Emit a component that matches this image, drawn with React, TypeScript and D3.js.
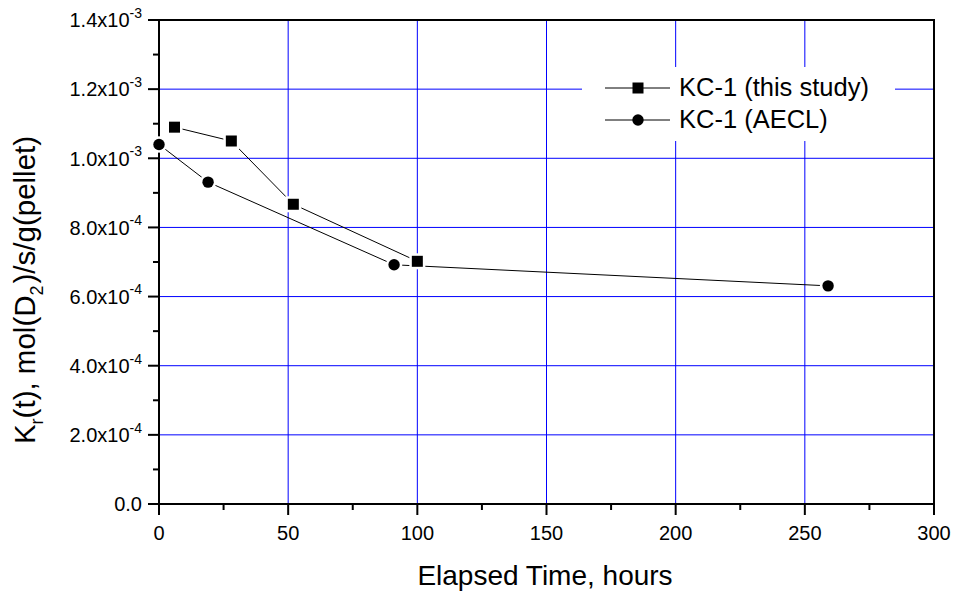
import React from "react";
import * as d3 from "d3";

// series
const studyTime = [6, 28, 52, 100];
const studyKr = [1.09e-3, 1.05e-3, 0.867e-3, 0.702e-3];
const aeclTime = [0, 19, 91, 259];
const aeclKr = [1.04e-3, 0.931e-3, 0.692e-3, 0.631e-3];

const xMajor = [0, 50, 100, 150, 200, 250, 300];
const xMinor = [25, 75, 125, 175, 225, 275];
const yMajor = [0, 0.2e-3, 0.4e-3, 0.6e-3, 0.8e-3, 1.0e-3, 1.2e-3, 1.4e-3];
const yMinor = [0.1e-3, 0.3e-3, 0.5e-3, 0.7e-3, 0.9e-3, 1.1e-3, 1.3e-3];
const yMantissa = ["0.0", "2.0", "4.0", "6.0", "8.0", "1.0", "1.2", "1.4"];
const yExponent = ["", "-4", "-4", "-4", "-4", "-3", "-3", "-3"];

const legendLabels = ["KC-1 (this study)", "KC-1 (AECL)"];

const font = "'Liberation Sans', Arial, sans-serif";

const App = () => {
  const width = 957;
  const height = 599;
  const left = 159;
  const right = 934;
  const top = 20;
  const bottom = 504;

  const x = d3.scaleLinear().domain([0, 300]).range([left, right]);
  const y = d3.scaleLinear().domain([0, 1.4e-3]).range([bottom, top]);

  const line = d3
    .line<[number, number]>()
    .x((d) => x(d[0]))
    .y((d) => y(d[1]));

  const study = studyTime.map((t, i) => [t, studyKr[i]] as [number, number]);
  const aecl = aeclTime.map((t, i) => [t, aeclKr[i]] as [number, number]);

  const sq = 11;
  const rc = 5.7;
  const halo = 2.5;

  const square = (cx: number, cy: number, key: string) => (
    <g key={key}>
      <rect x={cx - sq / 2 - halo} y={cy - sq / 2 - halo} width={sq + 2 * halo} height={sq + 2 * halo} fill="#fff" />
      <rect x={cx - sq / 2} y={cy - sq / 2} width={sq} height={sq} fill="#000" />
    </g>
  );
  const circle = (cx: number, cy: number, key: string) => (
    <g key={key}>
      <circle cx={cx} cy={cy} r={rc + halo} fill="#fff" />
      <circle cx={cx} cy={cy} r={rc} fill="#000" />
    </g>
  );

  const legX = 605;
  const legY = [88, 120];

  return (
    <svg
      width={width}
      height={height}
      style={{ position: "absolute", left: 0, top: 0, background: "#fff" }}
      fontFamily={font}
    >
      <rect width={width} height={height} fill="#fff" />

      {/* grid */}
      {xMajor.slice(1, -1).map((v) => (
        <line key={"gx" + v} x1={x(v)} x2={x(v)} y1={top} y2={bottom} stroke="#0000ff" strokeWidth={1} />
      ))}
      {yMajor.slice(1, -1).map((v) => (
        <line key={"gy" + v} x1={left} x2={right} y1={y(v)} y2={y(v)} stroke="#0000ff" strokeWidth={1} />
      ))}

      {/* legend background */}
      <rect x={582} y={67} width={313} height={74} fill="#fff" />

      {/* frame */}
      <rect x={left} y={top} width={right - left} height={bottom - top} fill="none" stroke="#000" strokeWidth={2} />

      {/* x ticks */}
      {xMajor.map((v) => (
        <g key={"xt" + v}>
          <line x1={x(v)} x2={x(v)} y1={bottom} y2={bottom + 11} stroke="#000" strokeWidth={2} />
          <text x={x(v)} y={540} fontSize={20} textAnchor="middle">
            {v}
          </text>
        </g>
      ))}
      {xMinor.map((v) => (
        <line key={"xm" + v} x1={x(v)} x2={x(v)} y1={bottom} y2={bottom + 6} stroke="#000" strokeWidth={2} />
      ))}

      {/* y ticks */}
      {yMajor.map((v, i) => (
        <g key={"yt" + v}>
          <line x1={left - 11} x2={left} y1={y(v)} y2={y(v)} stroke="#000" strokeWidth={2} />
          <text x={142} y={y(v) + 7.3} fontSize={20} textAnchor="end">
            {yExponent[i] ? (
              <>
                <tspan>{yMantissa[i]}x10</tspan>
                <tspan fontSize={14} dy={-9.5}>
                  {yExponent[i]}
                </tspan>
              </>
            ) : (
              yMantissa[i]
            )}
          </text>
        </g>
      ))}
      {yMinor.map((v) => (
        <line key={"ym" + v} x1={left - 6} x2={left} y1={y(v)} y2={y(v)} stroke="#000" strokeWidth={2} />
      ))}

      {/* series */}
      <path d={line(aecl) || ""} fill="none" stroke="#000" strokeWidth={1} />
      <path d={line(study) || ""} fill="none" stroke="#000" strokeWidth={1} />
      {aecl.map((d, i) => circle(x(d[0]), y(d[1]), "c" + i))}
      {study.map((d, i) => square(x(d[0]), y(d[1]), "s" + i))}

      {/* legend */}
      {legendLabels.map((lab, i) => (
        <g key={lab}>
          <line x1={legX} x2={legX + 65} y1={legY[i]} y2={legY[i]} stroke="#000" strokeWidth={1} />
          {i === 0 ? (
            <rect x={638 - 5.5} y={legY[i] - 5.5} width={11} height={11} fill="#000" />
          ) : (
            <circle cx={638} cy={legY[i]} r={rc} fill="#000" />
          )}
          <text x={679} y={legY[i] + 8} fontSize={25.5}>
            {lab}
          </text>
        </g>
      ))}

      {/* axis titles */}
      <text x={545} y={585} fontSize={28} textAnchor="middle">
        Elapsed Time, hours
      </text>
      <text transform="translate(35,290) rotate(-90)" fontSize={29.5} textAnchor="middle">
        K<tspan fontSize={18} dy={8}>r</tspan>
        <tspan dy={-8}>(t), mol(D</tspan>
        <tspan fontSize={18} dy={8}>2</tspan>
        <tspan dy={-8} dx={2}>)/s/g(pellet)</tspan>
      </text>
    </svg>
  );
};

export default App;
